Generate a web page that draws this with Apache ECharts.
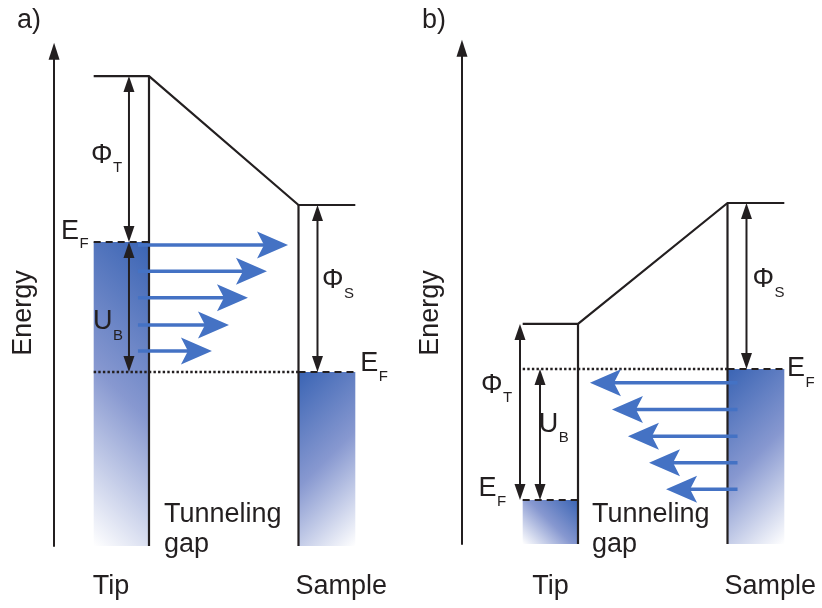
<!DOCTYPE html>
<html>
<head>
<meta charset="utf-8">
<script src="https://cdn.jsdelivr.net/npm/echarts@6/dist/echarts.min.js"></script>
<style>
html,body{margin:0;padding:0;background:#ffffff;}
#chart{width:822px;height:608px;}
</style>
</head>
<body>
<div id="chart"></div>
<script>
// ---------------- data (energies in eV relative to the sample Fermi level, positions in nm from the tip surface) ----------------
const panelTitles   = ['a)', 'b)'];
const axisTitle     = 'Energy';
const regionNames   = ['Tip', 'Tunneling', 'gap', 'Sample'];

const tipVacuum     = [8.86, 1.35];
const tipFermi      = [3.89, -3.92];
const sampleVacuum  = [5.00, 4.97];
const sampleFermi   = [0, 0];
const bandBottom    = [-5.21, -5.24];

const tipBack       = [-0.37, -0.37];
const gapWidth      = [1.0, 1.0];
const sampleBack    = [1.38, 1.38];

const phiTipAt      = [-0.134, -0.388];
const biasAt        = [-0.134, -0.254];
const phiSampleAt   = [1.127, 1.127];

const tunnelEnergy  = [[3.80, 3.02, 2.22, 1.41, 0.63], [-0.41, -1.21, -2.01, -2.81, -3.60]];
const tunnelStart   = [[-0.074, -0.074, -0.074, -0.074, -0.074], [1.067, 1.067, 1.067, 1.067, 1.067]];
const tunnelEnd     = [[0.930, 0.789, 0.662, 0.535, 0.421], [0.080, 0.227, 0.334, 0.475, 0.589]];

const gapSymbols    = [['\u03A6', 'T'], ['U', 'B'], ['\u03A6', 'S']];
const fermiSymbol   = ['E', 'F'];

// ---------------- layout & style ----------------
const INK  = '#231f20';
const BLUE = '#4472c4';
const FONT = '"Liberation Sans", Arial, Helvetica, sans-serif';
const PX_X = 149.5, PX_Y = 33.4, Y_MAX = 9.6;
const frames = [
  { tipX: 149, zeroY: 372, xMin: -0.635, xMax: 1.5 },
  { tipX: 578, zeroY: 369, xMin: -0.776, xMax: 1.5 }
];
const titlePos = [[17, 21], [422, 21]];
const labelLayout = [
  { phiT: [-16.5, -4, 13], bias: [-16.5, 14.7, 14], phiS: [26, -8, 13],
    efTip: [-14.7, -11, 13], efSample: [23, -8.3, 13],
    tipDx: -1, rowDy: 40.5, tunnelDx: 15, tunnelDy: -31, sampleDx: -3 },
  { phiT: [-17.5, -26, 11.5], bias: [18.3, -9.5, 12.5], phiS: [27.5, -6, 13.3],
    efTip: [-26.2, -11, 13], efSample: [20.7, 0, 14],
    tipDx: 9.5, rowDy: 42.5, tunnelDx: 14, tunnelDy: -29, sampleDx: -3 }
];
const BAND_STOPS = [
  { offset: 0, color: '#3a64b4' },
  { offset: 0.5, color: '#8798d0' },
  { offset: 1, color: '#ffffff' }
];

function txt(x, y, s, size, align) {
  return { type: 'text', x: x, y: y,
    style: { text: s, fill: INK, font: size + 'px ' + FONT, align: align || 'left', verticalAlign: 'middle' } };
}
function subLabel(x, y, main, sub, drop) {
  return [txt(x, y, main, 27, 'right'), txt(x + 0.5, y + drop, sub, 15, 'left')];
}
function doubleArrowShapes(a, b) {
  const L = 16, W = 5.5, dir = b[1] > a[1] ? 1 : -1, x = a[0];
  return [
    { type: 'line', shape: { x1: x, y1: a[1] + dir * (L - 1), x2: x, y2: b[1] - dir * (L - 1) },
      style: { stroke: INK, lineWidth: 2 } },
    { type: 'polygon', shape: { points: [[x, a[1]], [x - W, a[1] + dir * L], [x + W, a[1] + dir * L]] }, style: { fill: INK } },
    { type: 'polygon', shape: { points: [[x, b[1]], [x - W, b[1] - dir * L], [x + W, b[1] - dir * L]] }, style: { fill: INK } }
  ];
}
function tunnelArrowShapes(s, e) {
  const L = 31, W = 13.5, N = 7, dir = e[0] > s[0] ? 1 : -1, y = e[1];
  const base = e[0] - dir * L, notch = e[0] - dir * (L - N);
  return [
    { type: 'line', shape: { x1: s[0], y1: y, x2: notch + dir * 2, y2: y }, style: { stroke: BLUE, lineWidth: 3.5 } },
    { type: 'polygon', shape: { points: [[e[0], y], [base, y - W], [notch, y], [base, y + W]] }, style: { fill: BLUE } }
  ];
}

const grids = [], xAxes = [], yAxes = [], series = [], graphics = [];

panelTitles.forEach(function (title, p) {
  const f = frames[p], lay = labelLayout[p];
  const grid = {
    left: f.tipX + f.xMin * PX_X,
    top: f.zeroY - Y_MAX * PX_Y,
    width: (f.xMax - f.xMin) * PX_X,
    height: (Y_MAX - bandBottom[p]) * PX_Y,
    containLabel: false,
    outerBoundsMode: 'none'
  };
  grids.push(grid);
  xAxes.push({ gridIndex: p, type: 'value', min: f.xMin, max: f.xMax, show: false });
  yAxes.push({
    gridIndex: p, type: 'value', min: bandBottom[p], max: Y_MAX,
    axisLine: { show: true, onZero: false, symbol: ['none', 'triangle'], symbolSize: [11, 17],
      lineStyle: { color: INK, width: 2 } },
    axisTick: { show: false }, axisLabel: { show: false }, splitLine: { show: false }
  });
  const ax = { xAxisIndex: p, yAxisIndex: p, silent: true, animation: false };

  // filled electron states
  series.push(Object.assign({
    type: 'custom', name: 'filled states', z: 1,
    data: [[tipBack[p], tipFermi[p], 0, bandBottom[p], 0],
           [gapWidth[p], sampleFermi[p], sampleBack[p], bandBottom[p], 1]],
    renderItem: function (params, api) {
      const a = api.coord([api.value(0), api.value(1)]);
      const b = api.coord([api.value(2), api.value(3)]);
      const x = Math.min(a[0], b[0]), y = Math.min(a[1], b[1]);
      const w = Math.abs(b[0] - a[0]), h = Math.abs(b[1] - a[1]);
      const s = (w + h) / 2;
      const fromRight = api.value(4) === 0;
      const x0 = fromRight ? x + w : x;
      const x1 = fromRight ? x0 - s : x0 + s;
      return { type: 'rect', shape: { x: x, y: y, width: w, height: h },
        style: { fill: new echarts.graphic.LinearGradient(x0, y, x1, y + s, BAND_STOPS, true) } };
    }
  }, ax));

  // level lines
  function addLine(name, pts, style) {
    series.push(Object.assign({
      type: 'line', name: name, z: 2, symbol: 'none', showSymbol: false, clip: false, data: pts,
      lineStyle: Object.assign({ color: INK, width: 2.2, join: 'miter', cap: 'butt' }, style)
    }, ax));
  }
  addLine('vacuum level', [[tipBack[p], tipVacuum[p]], [0, tipVacuum[p]], [gapWidth[p], sampleVacuum[p]], [sampleBack[p], sampleVacuum[p]]], {});
  addLine('tip surface', [[0, tipVacuum[p]], [0, bandBottom[p]]], {});
  addLine('sample surface', [[gapWidth[p], sampleVacuum[p]], [gapWidth[p], bandBottom[p]]], {});
  addLine('tip Fermi level', [[tipBack[p], tipFermi[p]], [0, tipFermi[p]]], { type: [7, 5], width: 2 });
  addLine('sample Fermi level', [[gapWidth[p], sampleFermi[p]], [sampleBack[p], sampleFermi[p]]], { type: [7, 5], width: 2 });
  addLine('Fermi level guide', [[tipBack[p], sampleFermi[p]], [gapWidth[p], sampleFermi[p]]], { type: [2.4, 2.2], width: 2.4 });

  // energy differences
  const gapLay = [lay.phiT, lay.bias, lay.phiS];
  series.push(Object.assign({
    type: 'custom', name: 'energy differences', z: 3,
    data: [[phiTipAt[p], tipVacuum[p], tipFermi[p]],
           [biasAt[p], tipFermi[p], sampleFermi[p]],
           [phiSampleAt[p], sampleVacuum[p], sampleFermi[p]]],
    renderItem: function (params, api) {
      const i = params.dataIndex;
      const a = api.coord([api.value(0), api.value(1)]);
      const b = api.coord([api.value(0), api.value(2)]);
      const ch = doubleArrowShapes(a, b);
      const l = gapLay[i];
      const my = (a[1] + b[1]) / 2;
      return { type: 'group', children: ch.concat(subLabel(a[0] + l[0], my + l[1], gapSymbols[i][0], gapSymbols[i][1], l[2])) };
    }
  }, ax));

  // tunnelling electrons
  series.push(Object.assign({
    type: 'custom', name: 'tunnelling', z: 4,
    data: tunnelEnergy[p].map(function (e, k) { return [tunnelStart[p][k], e, tunnelEnd[p][k]]; }),
    renderItem: function (params, api) {
      const s = api.coord([api.value(0), api.value(1)]);
      const e = api.coord([api.value(2), api.value(1)]);
      return { type: 'group', children: tunnelArrowShapes(s, e) };
    }
  }, ax));

  // Fermi level labels
  series.push(Object.assign({
    type: 'custom', name: 'Fermi labels', z: 5,
    data: [[tipBack[p], tipFermi[p]], [sampleBack[p], sampleFermi[p]]],
    renderItem: function (params, api) {
      const c = api.coord([api.value(0), api.value(1)]);
      const l = params.dataIndex === 0 ? lay.efTip : lay.efSample;
      return { type: 'group', children: subLabel(c[0] + l[0], c[1] + l[1], fermiSymbol[0], fermiSymbol[1], l[2]) };
    }
  }, ax));

  // region labels
  series.push(Object.assign({
    type: 'custom', name: 'regions', z: 5,
    data: [[tipBack[p], bandBottom[p], 0, gapWidth[p]]],
    renderItem: function (params, api) {
      const t = api.coord([api.value(0), api.value(1)]);
      const g = api.coord([api.value(2), api.value(1)]);
      const s = api.coord([api.value(3), api.value(1)]);
      const row = t[1] + lay.rowDy;
      return { type: 'group', children: [
        txt(t[0] + lay.tipDx, row, regionNames[0], 27),
        txt(g[0] + lay.tunnelDx, t[1] + lay.tunnelDy, regionNames[1], 27),
        txt(g[0] + lay.tunnelDx, t[1] + lay.tunnelDy + 30, regionNames[2], 27),
        txt(s[0] + lay.sampleDx, row, regionNames[3], 27)
      ] };
    }
  }, ax));

  graphics.push({ type: 'text', x: titlePos[p][0], y: titlePos[p][1], silent: true,
    style: { text: title, fill: INK, font: '27px ' + FONT, align: 'left', verticalAlign: 'middle' } });
  graphics.push({ type: 'text', x: grid.left - 31, y: 313, rotation: Math.PI / 2, silent: true,
    style: { text: axisTitle, fill: INK, font: '27px ' + FONT, align: 'center', verticalAlign: 'middle' } });
});

const chart = echarts.init(document.getElementById('chart'), null, { renderer: 'canvas' });
chart.setOption({
  animation: false,
  backgroundColor: '#ffffff',
  grid: grids,
  xAxis: xAxes,
  yAxis: yAxes,
  series: series,
  graphic: graphics
});
</script>
</body>
</html>
